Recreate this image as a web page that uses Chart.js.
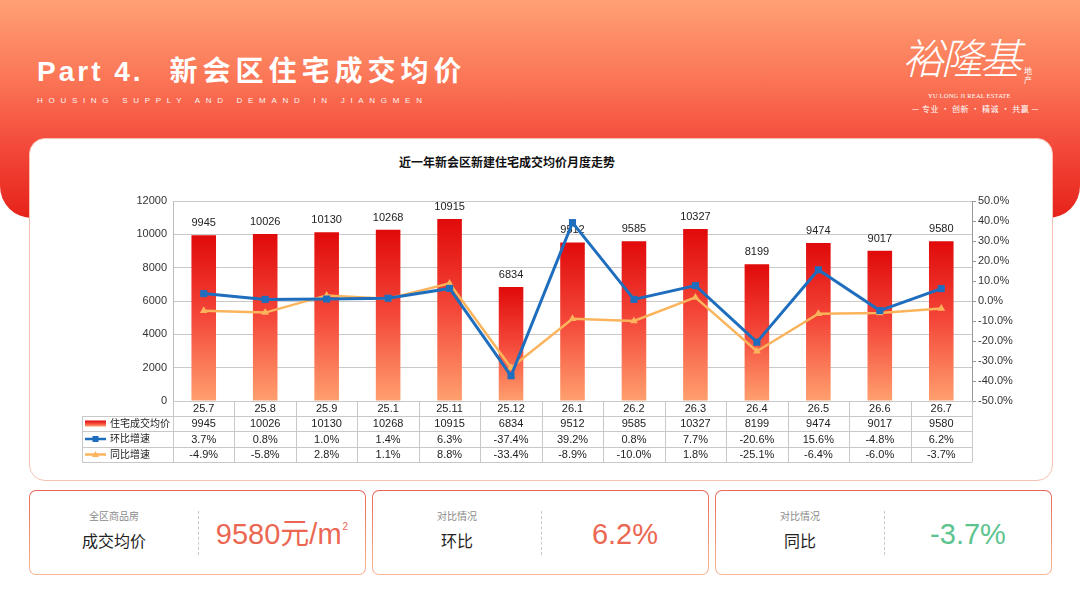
<!DOCTYPE html>
<html><head><meta charset="utf-8">
<script src="https://cdn.jsdelivr.net/npm/chart.js@4"></script>
<style>
body{margin:0;width:1080px;height:608px;overflow:hidden;background:#fff;position:relative;font-family:"Liberation Sans","Noto Sans CJK SC",sans-serif}
.header{position:absolute;left:0;top:0;width:1080px;height:218px;border-radius:0 0 32px 32px;background:linear-gradient(180deg,#FFA073 0%,#FB7757 35%,#F3483A 68%,#E62219 100%)}
.t1{position:absolute;left:37px;top:49px;color:#fff;font-weight:bold;white-space:nowrap}
.t1 .en{font-family:"Liberation Sans",Arial,sans-serif;font-size:28px;letter-spacing:3px}
.t1 .cn{font-family:"Noto Sans CJK SC",sans-serif;font-size:28px;letter-spacing:5px;margin-left:26px}
.t2{position:absolute;left:37px;top:96px;color:#fff;font-size:8px;letter-spacing:5.7px;white-space:nowrap;opacity:.92}
.logo{position:absolute;left:900px;top:26px;color:#fff;font-family:"Noto Sans CJK SC",sans-serif}
.logo .big{position:absolute;left:2px;top:0;font-size:42px;font-weight:300;letter-spacing:-3px;font-style:italic;white-space:nowrap;line-height:60px}
.logo .dc{position:absolute;left:124px;top:40px;font-size:8px;line-height:9px;width:10px}
.logo .en{position:absolute;left:28px;top:66px;font-family:"Liberation Serif",serif;font-size:6.5px;white-space:nowrap;letter-spacing:.2px}
.logo .tag{position:absolute;left:12px;top:77px;font-size:8px;white-space:nowrap;letter-spacing:.5px}
.card{position:absolute;left:29px;top:138px;width:1022px;height:341px;background:#fff;border:1px solid #F5C3B6;border-radius:16px}
.ctitle{position:absolute;left:30px;top:153px;width:954px;text-align:center;font-family:"Noto Sans CJK SC",sans-serif;font-weight:bold;font-size:12px;color:#111}
#wrap{position:absolute;left:30px;top:140px;width:1022px;height:340px}
.bc{position:absolute;top:490px;width:337px;height:85px;border-radius:7px;background:linear-gradient(180deg,#E9665A,#F9B89B);padding:1px;box-sizing:border-box}
.in{position:relative;width:100%;height:100%;background:#fff;border-radius:6px}
.lab{position:absolute;left:0;top:0;width:168px;text-align:center;font-family:"Noto Sans CJK SC",sans-serif}
.lab .s{position:absolute;left:0;width:100%;top:17px;font-size:10px;color:#8a8a8a}
.lab .b{position:absolute;left:0;width:100%;top:37px;font-size:16px;color:#222}
.dv{position:absolute;left:168px;top:20px;height:44px;border-left:1px dashed #c8c8c8}
.val{position:absolute;left:169px;top:0;width:166px;height:83px;line-height:86px;text-align:center;font-size:29px;white-space:nowrap;font-family:"Liberation Sans","Noto Sans CJK SC",sans-serif}
.val .sq{font-size:10px;position:relative;top:-14px;margin-left:1px}
</style></head>
<body>
<div class="header"></div>
<div class="t1"><span class="en">Part 4.</span><span class="cn">新会区住宅成交均价</span></div>
<div class="t2">HOUSING SUPPLY AND DEMAND IN JIANGMEN</div>
<div class="logo">
  <div class="big">裕隆基</div>
  <div class="dc">地<br>产</div>
  <div class="en">YU LONG JI REAL ESTATE</div>
  <div class="tag">— 专业 · 创新 · 精诚 · 共赢 —</div>
</div>
<div class="card"></div>
<div class="ctitle">近一年新会区新建住宅成交均价月度走势</div>
<div id="wrap"><canvas id="c" width="1022" height="340"></canvas></div>

<div class="bc" style="left:29px"><div class="in">
  <div class="lab"><div class="s">全区商品房</div><div class="b">成交均价</div></div>
  <div class="dv"></div>
  <div class="val" style="color:#EB6752">9580元/m<span class="sq">2</span></div>
</div></div>
<div class="bc" style="left:372px"><div class="in">
  <div class="lab"><div class="s">对比情况</div><div class="b">环比</div></div>
  <div class="dv"></div>
  <div class="val" style="color:#EB6752">6.2%</div>
</div></div>
<div class="bc" style="left:715px"><div class="in">
  <div class="lab"><div class="s">对比情况</div><div class="b">同比</div></div>
  <div class="dv"></div>
  <div class="val" style="color:#5DC490">-3.7%</div>
</div></div>

<script>
const categories = ['25.7','25.8','25.9','25.1','25.11','25.12','26.1','26.2','26.3','26.4','26.5','26.6','26.7'];
const avgPrice = [9945,10026,10130,10268,10915,6834,9512,9585,10327,8199,9474,9017,9580];
const momGrowth = [3.7,0.8,1.0,1.4,6.3,-37.4,39.2,0.8,7.7,-20.6,15.6,-4.8,6.2];
const yoyGrowth = [-4.9,-5.8,2.8,1.1,8.8,-33.4,-8.9,-10.0,1.8,-25.1,-6.4,-6.0,-3.7];
const seriesNames = ['住宅成交均价','环比增速','同比增速'];
const leftAxis = {min:0, max:12000, step:2000};
const rightAxis = {min:-50, max:50, step:10};

const FONT = '"Liberation Sans","Noto Sans CJK SC",sans-serif';
const BLUE = '#1F6EBE', ORANGE = '#FBB45C';

function barGradient(chart, yTop, yBottom){
  const g = chart.ctx.createLinearGradient(0, yTop, 0, yBottom);
  g.addColorStop(0, '#E00A0A');
  g.addColorStop(0.5, '#F4483A');
  g.addColorStop(1, '#FFA06E');
  return g;
}

const pct = v => (v<0?'-':'') + Math.abs(v).toFixed(1) + '%';

const valueLabels = {
  id:'valueLabels',
  afterDatasetDraw(chart, args){
    if (args.index !== 0) return;
    const ctx = chart.ctx;
    ctx.save();
    ctx.font = '11px ' + FONT;
    ctx.fillStyle = '#222';
    ctx.textAlign = 'center';
    ctx.textBaseline = 'middle';
    args.meta.data.forEach((el, i) => {
      ctx.fillText(String(avgPrice[i]), el.x, el.y - 12);
    });
    ctx.restore();
  }
};

const dataTable = {
  id:'dataTable',
  afterDraw(chart){
    const ctx = chart.ctx, ca = chart.chartArea, x = chart.scales.x;
    const half = (x.getPixelForValue(1) - x.getPixelForValue(0)) / 2;
    const left0 = ca.left - 91;
    const rows = [ca.bottom, ca.bottom + 15, ca.bottom + 30, ca.bottom + 46, ca.bottom + 61];
    ctx.save();
    ctx.strokeStyle = '#C8C8C8';
    ctx.lineWidth = 1;
    ctx.beginPath();
    for (let r = 1; r < rows.length; r++) {
      const yy = Math.round(rows[r]) + 0.5;
      ctx.moveTo(left0, yy); ctx.lineTo(ca.right, yy);
    }
    ctx.moveTo(Math.round(left0) + 0.5, rows[1]); ctx.lineTo(Math.round(left0) + 0.5, rows[4]);
    for (let i = 0; i <= categories.length; i++) {
      const xx = Math.round(x.getPixelForValue(0) - half + i * 2 * half) + 0.5;
      ctx.moveTo(xx, rows[0]); ctx.lineTo(xx, rows[4]);
    }
    ctx.stroke();

    ctx.fillStyle = '#222';
    ctx.textAlign = 'center';
    ctx.textBaseline = 'middle';
    ctx.font = '11px ' + FONT;
    const rowVals = [categories, avgPrice.map(String), momGrowth.map(pct), yoyGrowth.map(pct)];
    rowVals.forEach((vals, r) => {
      const cy = (rows[r] + rows[r + 1]) / 2 + 0.5;
      vals.forEach((v, i) => ctx.fillText(v, x.getPixelForValue(i), cy));
    });

    ctx.textAlign = 'left';
    ctx.font = '10px ' + FONT;
    for (let r = 1; r <= 3; r++) {
      const cy = (rows[r] + rows[r + 1]) / 2;
      const kx0 = left0 + 3, kx1 = left0 + 24, kc = (kx0 + kx1) / 2;
      if (r === 1) {
        ctx.fillStyle = barGradient(chart, cy - 3, cy + 3);
        ctx.fillRect(kx0, cy - 3, kx1 - kx0, 6);
      } else {
        const col = r === 2 ? BLUE : ORANGE;
        ctx.strokeStyle = col; ctx.fillStyle = col; ctx.lineWidth = 2.5;
        ctx.beginPath(); ctx.moveTo(kx0, cy); ctx.lineTo(kx1, cy); ctx.stroke();
        if (r === 2) ctx.fillRect(kc - 3, cy - 3, 6, 6);
        else { ctx.beginPath(); ctx.moveTo(kc, cy - 3.5); ctx.lineTo(kc + 3.5, cy + 2.5); ctx.lineTo(kc - 3.5, cy + 2.5); ctx.closePath(); ctx.fill(); }
      }
      ctx.fillStyle = '#222';
      ctx.fillText(seriesNames[r - 1], left0 + 28, cy + 0.5);
    }
    ctx.restore();
  }
};

new Chart(document.getElementById('c'), {
  type:'bar',
  data:{
    labels: categories,
    datasets:[
      {
        label: seriesNames[0], data: avgPrice, yAxisID:'y', order:2,
        barPercentage:0.4, categoryPercentage:1.0,
        backgroundColor: (c) => {
          const chart = c.chart, ca = chart.chartArea;
          if (!ca || c.type !== 'data') return '#F04030';
          return barGradient(chart, chart.scales.y.getPixelForValue(c.raw), ca.bottom);
        }
      },
      {
        type:'line', label: seriesNames[1], data: momGrowth, yAxisID:'y1', order:0,
        borderColor: BLUE, backgroundColor: BLUE, borderWidth:3, tension:0,
        pointStyle:'rect', pointRadius:5, pointBorderWidth:0, pointBackgroundColor: BLUE
      },
      {
        type:'line', label: seriesNames[2], data: yoyGrowth, yAxisID:'y1', order:1,
        borderColor: ORANGE, backgroundColor: ORANGE, borderWidth:2.5, tension:0,
        pointStyle:'triangle', pointRadius:4.5, pointBorderWidth:0, pointBackgroundColor: ORANGE
      }
    ]
  },
  options:{
    responsive:false, animation:false,
    layout:{padding:{top:61, bottom:79, left:0, right:0}},
    plugins:{legend:{display:false}, tooltip:{enabled:false}, title:{display:false}},
    scales:{
      x:{display:false, offset:true},
      y:{
        position:'left', min:leftAxis.min, max:leftAxis.max,
        ticks:{stepSize:leftAxis.step, color:'#333', font:{size:11, family:FONT}, padding:6,
               callback:(v) => String(v)},
        grid:{color:'#C9C9C9', drawTicks:false},
        border:{display:true, color:'#BDBDBD'},
        afterFit(s){ s.width = 143; }
      },
      y1:{
        position:'right', min:rightAxis.min, max:rightAxis.max,
        ticks:{stepSize:rightAxis.step, color:'#333', font:{size:11, family:FONT}, padding:2,
               callback:(v) => pct(v)},
        grid:{drawOnChartArea:false, drawTicks:true, tickLength:4, color:'#999'},
        border:{display:true, color:'#999'},
        afterFit(s){ s.width = 80; }
      }
    }
  },
  plugins:[valueLabels, dataTable]
});
</script>
</body></html>
